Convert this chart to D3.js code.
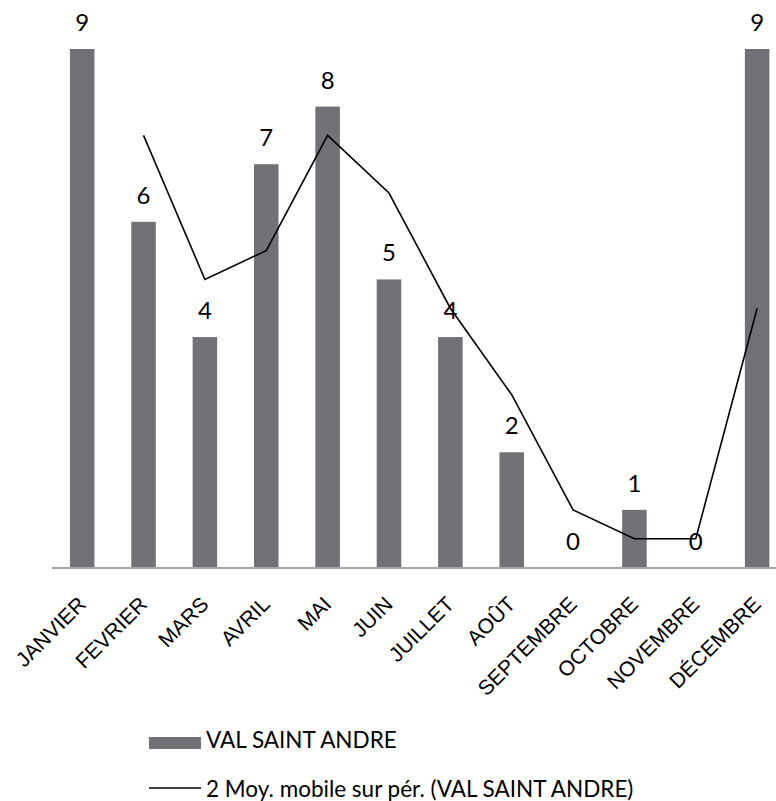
<!DOCTYPE html>
<html>
<head>
<meta charset="utf-8">
<script src="https://cdn.jsdelivr.net/npm/d3@7"></script>
<style>
  body { margin: 0; background: #fff; }
  svg { display: block; font-family: Lato, "Open Sans", sans-serif; }
</style>
</head>
<body>
<svg id="chart" width="776" height="801"></svg>
<script>
const months = ["JANVIER", "FEVRIER", "MARS", "AVRIL", "MAI", "JUIN", "JUILLET", "AOÛT", "SEPTEMBRE", "OCTOBRE", "NOVEMBRE", "DÉCEMBRE"];
const counts = [9, 6, 4, 7, 8, 5, 4, 2, 0, 1, 0, 9];
// moyenne mobile sur 2 périodes (pas de valeur en janvier)
const movingAvg = [null, 7.5, 5, 5.5, 7.5, 6.5, 4.5, 3, 1, 0.5, 0.5, 4.5];
const seriesName = "VAL SAINT ANDRE";
const trendName = "2 Moy. mobile sur pér. (VAL SAINT ANDRE)";

const svg = d3.select("#chart");
const baseY = 567.5;

// la plage dépasse la fenêtre à droite, comme dans l'original
const x = d3.scaleBand()
  .domain(months)
  .range([51.5, 51.5 + 12 * 61.36])
  .paddingInner(0.6)
  .paddingOuter(0.3);

const y = d3.scaleLinear()
  .domain([0, 9])
  .range([baseY, 49]);

const cx = (m) => x(m) + x.bandwidth() / 2;

// barres
svg.append("g")
  .attr("fill", "#727176")
  .selectAll("rect")
  .data(counts)
  .join("rect")
  .attr("x", (d, i) => x(months[i]))
  .attr("width", x.bandwidth())
  .attr("y", (d) => y(d))
  .attr("height", (d) => y(0) - y(d));

// axe des x
const xAxis = (g) =>
  g.attr("transform", `translate(0,${baseY})`)
    .attr("font-family", null)
    .call(d3.axisBottom(x).tickSize(0).tickSizeOuter(0))
    .call((g) => g.select(".domain").attr("stroke", "#a5a5a5").attr("stroke-width", 2))
    .call((g) => g.selectAll(".tick text")
      .attr("font-size", 21)
      .attr("fill", "#000")
      .attr("text-anchor", "end")
      .attr("x", null)
      .attr("y", null)
      .attr("dy", null)
      .attr("transform", "translate(5,38) rotate(-45)"));

svg.append("g").call(xAxis);

// étiquettes de valeur
svg.append("g")
  .attr("font-size", 24)
  .attr("text-anchor", "middle")
  .selectAll("text")
  .data(counts)
  .join("text")
  .attr("x", (d, i) => cx(months[i]))
  .attr("y", (d) => y(d) - 18)
  .text((d) => d);

// moyenne mobile
const line = d3.line()
  .defined((d) => d != null)
  .x((d, i) => cx(months[i]))
  .y((d) => y(d));

svg.append("path")
  .datum(movingAvg)
  .attr("fill", "none")
  .attr("stroke", "#000")
  .attr("stroke-width", 1.6)
  .attr("d", line);

// légende
const legend = svg.append("g").attr("font-size", 22.5);
legend.append("rect")
  .attr("x", 149).attr("y", 737)
  .attr("width", 52).attr("height", 12)
  .attr("fill", "#727176");
legend.append("text")
  .attr("x", 206).attr("y", 748)
  .text(seriesName);
legend.append("line")
  .attr("x1", 149).attr("x2", 201)
  .attr("y1", 788).attr("y2", 788)
  .attr("stroke", "#000").attr("stroke-width", 1.6);
legend.append("text")
  .attr("x", 206).attr("y", 797)
  .text(trendName);
</script>
</body>
</html>
